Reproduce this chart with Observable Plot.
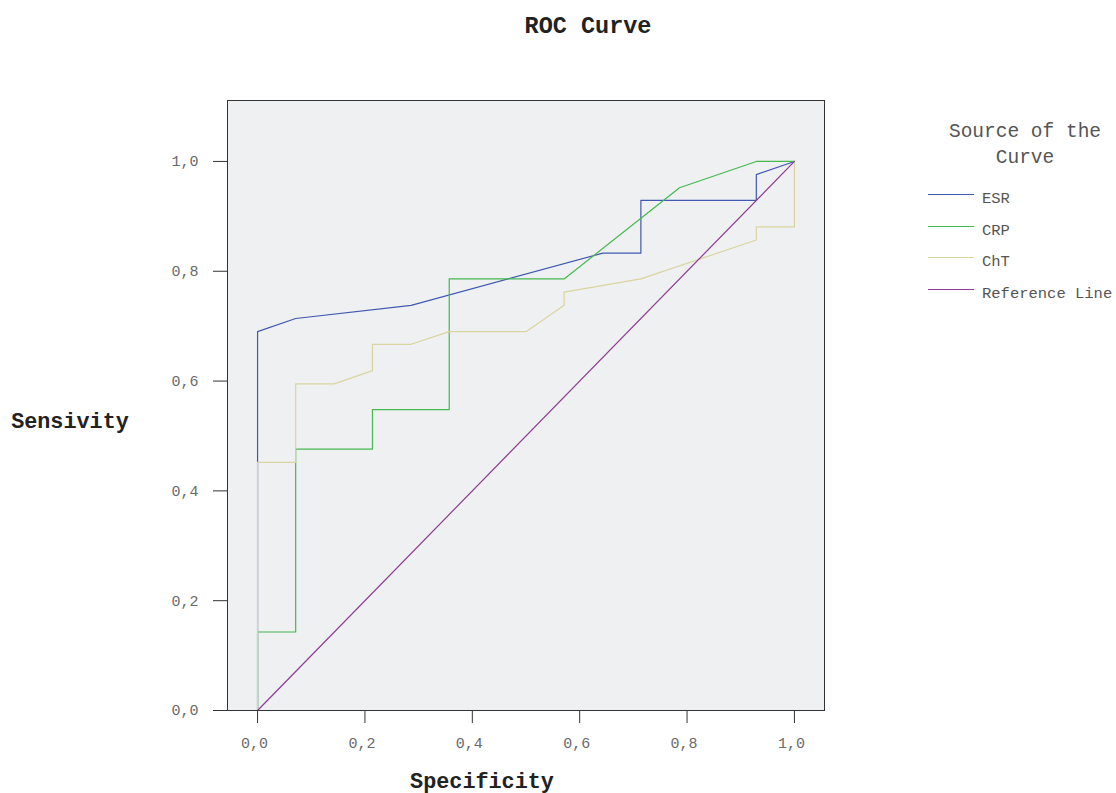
<!DOCTYPE html>
<html>
<head>
<meta charset="utf-8">
<script src="https://cdn.jsdelivr.net/npm/d3@7"></script>
<script src="https://cdn.jsdelivr.net/npm/@observablehq/plot@0.6"></script>
<style>
  html, body { margin: 0; padding: 0; background: #ffffff; }
  #wrap { position: relative; width: 1116px; height: 793px; font-family: "Liberation Mono", "DejaVu Sans Mono", monospace; }
  #chart { position: absolute; left: 0; top: 0; }
  .lbl { position: absolute; white-space: nowrap; color: #222; }
  .title { font-weight: bold; font-size: 23.5px; left: 588px; top: 26px; transform: translate(-50%, -50%); }
  .xtitle { font-weight: bold; font-size: 21.8px; left: 482px; top: 782px; transform: translate(-50%, -50%); }
  .ytitle { font-weight: bold; font-size: 21.8px; left: 70px; top: 422px; transform: translate(-50%, -50%); }
  .legtitle { font-size: 19.5px; color: #555; left: 1025px; top: 145px; transform: translate(-50%, -50%); text-align: center; line-height: 26px; }
  .legitem { font-size: 15.5px; color: #555; left: 928px; }
  .legitem span.sw { display: inline-block; width: 46px; height: 0; border-top: 1.2px solid; vertical-align: top; margin-right: 8px; position: relative; top: 4px; }
  svg g[aria-label="x-axis tick label"] text, svg g[aria-label="y-axis tick label"] text { fill: #6a6a6a; }
</style>
</head>
<body>
<div id="wrap">
  <div id="chart"></div>
</div>
<script>
// Series names and colours (legend order)
const seriesNames = ["ESR", "CRP", "ChT", "Reference Line"];
const seriesColors = ["#4058b2", "#45b84f", "#dad4a0", "#8d3b91"];

// ESR curve
const esrX = [0, 0, 0.071, 0.286, 0.643, 0.714, 0.714, 0.929, 0.929, 1.0];
const esrY = [0, 0.690, 0.714, 0.738, 0.833, 0.833, 0.929, 0.929, 0.976, 1.0];

// CRP curve
const crpX = [0, 0, 0.071, 0.071, 0.214, 0.214, 0.357, 0.357, 0.571, 0.786, 0.929, 1.0];
const crpY = [0, 0.143, 0.143, 0.476, 0.476, 0.548, 0.548, 0.786, 0.786, 0.952, 1.0, 1.0];

// ChT curve
const chtX = [0, 0, 0.071, 0.071, 0.143, 0.214, 0.214, 0.286, 0.357, 0.500, 0.571, 0.571, 0.714, 0.929, 0.929, 1.0, 1.0];
const chtY = [0, 0.452, 0.452, 0.595, 0.595, 0.619, 0.667, 0.667, 0.690, 0.690, 0.738, 0.762, 0.786, 0.857, 0.881, 0.881, 1.0];

// Reference line
const refX = [0, 1];
const refY = [0, 1];

// Axis ticks
const xTicks = [0, 0.2, 0.4, 0.6, 0.8, 1.0];
const yTicks = [0, 0.2, 0.4, 0.6, 0.8, 1.0];

const toPts = (xs, ys) => xs.map((x, i) => ({x, y: ys[i]}));
const curves = [toPts(esrX, esrY), toPts(crpX, crpY), toPts(chtX, chtY), toPts(refX, refY)];
const fmt = d => d.toFixed(1).replace(".", ",");

const chart = Plot.plot({
  width: 1116,
  height: 793,
  marginLeft: 227,
  marginRight: 292,
  marginTop: 100,
  marginBottom: 83,
  style: { background: "white", fontFamily: "Liberation Mono, monospace", fontSize: "15px", color: "#333" },
  x: { domain: [-0.056, 1.056] },
  y: { domain: [0, 1.111] },
  marks: [
    Plot.frame({ fill: "#eff0f2" }),
    Plot.axisX({ ticks: xTicks, tickFormat: () => "", tickSize: 13, label: null, stroke: "#333" }),
    Plot.axisX({ ticks: xTicks, tickFormat: fmt, tickSize: 0, tickPadding: 27, label: null, dx: -3 }),
    Plot.axisY({ ticks: yTicks, tickFormat: fmt, tickSize: 14, tickPadding: 15, label: null, stroke: "#333" }),
    ...curves.map((pts, i) => Plot.line(pts, { x: "x", y: "y", stroke: seriesColors[i], strokeWidth: 1.2, curve: "linear" })),
    Plot.frame({ stroke: "#333", strokeWidth: 1 })
  ]
});
document.getElementById("chart").appendChild(chart);

const wrap = document.getElementById("wrap");
function addLabel(cls, html, style) {
  const d = document.createElement("div");
  d.className = "lbl " + cls;
  d.innerHTML = html;
  if (style) Object.assign(d.style, style);
  wrap.appendChild(d);
  return d;
}
addLabel("title", "ROC Curve");
addLabel("xtitle", "Specificity");
addLabel("ytitle", "Sensivity");
addLabel("legtitle", "Source of the<br>Curve");
const legY = [194, 226, 257, 289];
seriesNames.forEach((name, i) => {
  addLabel("legitem", `<span class="sw" style="border-top-color:${seriesColors[i]}"></span>${name}`, { top: (legY[i] - 4) + "px" });
});
</script>
</body>
</html>
